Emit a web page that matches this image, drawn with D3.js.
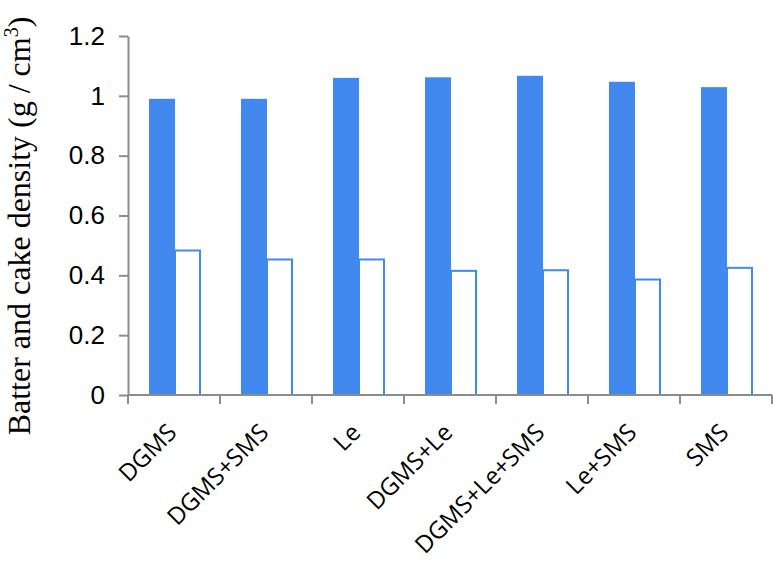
<!DOCTYPE html>
<html>
<head>
<meta charset="utf-8">
<script src="https://cdn.jsdelivr.net/npm/d3@7/dist/d3.min.js"></script>
<style>
  body { margin: 0; background: #fff; }
  svg { display: block; }
</style>
</head>
<body>
<svg id="chart" width="773" height="565"></svg>
<script>
// Categories (emulsifier treatments)
var categories = ['DGMS', 'DGMS+SMS', 'Le', 'DGMS+Le', 'DGMS+Le+SMS', 'Le+SMS', 'SMS'];

// Batter density (filled bars)
var batterDensity = [0.99, 0.99, 1.06, 1.062, 1.067, 1.047, 1.029];

// Cake density (hollow bars)
var cakeDensity = [0.483, 0.453, 0.453, 0.415, 0.417, 0.386, 0.425];

// Y axis ticks
var yTicks = [0, 0.2, 0.4, 0.6, 0.8, 1, 1.2];

var blue = '#4189ee';
var axisGray = '#8c8c8c';

var svg = d3.select('#chart');

// Scales
var x = d3.scaleBand()
  .domain(categories)
  .range([128, 772])
  .padding(0);

var x1 = d3.scaleBand()
  .domain(['batter', 'cake'])
  .range([21, 73])
  .padding(0);

var y = d3.scaleLinear()
  .domain([0, 1.2])
  .range([395, 36]);

var data = categories.map(function(c, i) {
  return {cat: c, batter: batterDensity[i], cake: cakeDensity[i]};
});

// Batter bars (solid)
svg.append('g').selectAll('rect')
  .data(data)
  .enter()
  .append('rect')
  .attr('x', function(d) { return x(d.cat) + x1('batter'); })
  .attr('y', function(d) { return y(d.batter); })
  .attr('width', x1.bandwidth())
  .attr('height', function(d) { return y(0) - y(d.batter); })
  .style('fill', blue);

// Cake bars (outlined)
svg.append('g').selectAll('rect')
  .data(data)
  .enter()
  .append('rect')
  .attr('x', function(d) { return x(d.cat) + x1('cake'); })
  .attr('y', function(d) { return y(d.cake); })
  .attr('width', x1.bandwidth() - 1)
  .attr('height', function(d) { return y(0) - y(d.cake); })
  .style('fill', '#fff')
  .style('stroke', blue)
  .style('stroke-width', 2);

// Y axis
var yAxis = svg.append('g')
  .attr('transform', 'translate(128,0)')
  .call(d3.axisLeft(y).tickValues(yTicks).tickSize(9).tickSizeOuter(0)
    .tickFormat(function(d) { return d3.format('')(+d.toFixed(1)); }));
yAxis.selectAll('path, line').style('stroke', axisGray).style('stroke-width', 2);
yAxis.selectAll('text')
  .attr('x', -23)
  .style('font-family', '"Liberation Sans", Arial, sans-serif')
  .style('font-size', '26px')
  .style('fill', '#000');

// X axis: line plus ticks at category boundaries
var xAxis = svg.append('g');
var boundaries = categories.map(function(c) { return x(c); }).concat([x.range()[1]]);
xAxis.append('line')
  .attr('x1', x.range()[0]).attr('x2', x.range()[1])
  .attr('y1', y(0)).attr('y2', y(0))
  .style('stroke', axisGray).style('stroke-width', 2);
xAxis.selectAll('line.tick')
  .data(boundaries)
  .enter()
  .append('line')
  .attr('class', 'tick')
  .attr('x1', function(d) { return d; }).attr('x2', function(d) { return d; })
  .attr('y1', y(0)).attr('y2', y(0) + 9)
  .style('stroke', axisGray).style('stroke-width', 2);

// Rotated category labels
xAxis.selectAll('text')
  .data(categories)
  .enter()
  .append('text')
  .attr('transform', function(d) {
    return 'translate(' + (x(d) + x.bandwidth() / 2 + 4) + ',' + (y(0) + 39) + ') rotate(-45)';
  })
  .attr('text-anchor', 'end')
  .style('font-family', '"Open Sans", sans-serif')
  .style('font-size', '24px')
  .style('fill', '#000')
  .text(function(d) { return d; });

// Y axis title
var title = svg.append('text')
  .attr('transform', 'translate(30,226) rotate(-90)')
  .attr('text-anchor', 'middle')
  .style('font-family', '"Liberation Serif", "Times New Roman", serif')
  .style('font-size', '32px')
  .style('fill', '#000');
title.append('tspan').text('Batter and cake density (g / cm');
title.append('tspan').attr('dy', -12).style('font-size', '20px').text('3');
title.append('tspan').attr('dy', 12).text(')');
</script>
</body>
</html>
